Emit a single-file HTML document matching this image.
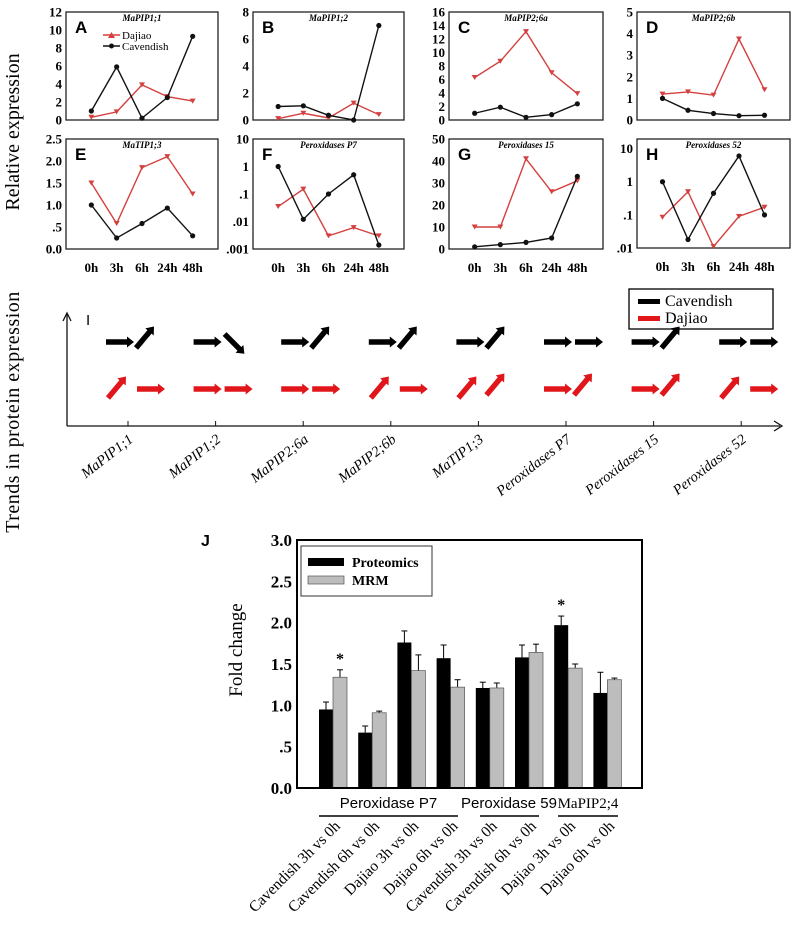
<!DOCTYPE html>
<html><head><meta charset="utf-8"><style>
html,body{margin:0;padding:0;background:#fff;}
svg{display:block;font-family:"Liberation Serif",serif;}
</style></head><body>
<svg id="fig" width="800" height="925" viewBox="0 0 800 925">
<text transform="translate(19,132) rotate(-90)" text-anchor="middle" font-size="20">Relative expression</text>
<text transform="translate(19,412) rotate(-90)" text-anchor="middle" font-size="20" letter-spacing="0.5">Trends in protein expression</text>
<g id="lines"></g>
<g id="trend"></g>
<g id="bars"></g>
</svg>
<script>
const NS="http://www.w3.org/2000/svg";
function mk(tag,attrs,parent,text){const e=document.createElementNS(NS,tag);for(const k in attrs)e.setAttribute(k,attrs[k]);if(text!==undefined)e.textContent=text;parent.appendChild(e);return e;}

// ---------- line panels data ----------
const timeLabels=["0h","3h","6h","24h","48h"];
const dajiaoA=[0.3,0.9,3.9,2.6,2.1];
const cavA=[1.0,5.9,0.2,2.5,9.3];
const dajiaoB=[0.1,0.5,0.15,1.25,0.4];
const cavB=[1.0,1.05,0.35,0.0,7.0];
const dajiaoC=[6.3,8.7,13.1,7.0,3.9];
const cavC=[1.0,1.9,0.4,0.8,2.4];
const dajiaoD=[1.2,1.3,1.15,3.75,1.4];
const cavD=[1.0,0.45,0.3,0.2,0.22];
const dajiaoE=[1.5,0.58,1.85,2.1,1.25];
const cavE=[1.0,0.25,0.58,0.93,0.3];
const dajiaoF=[0.035,0.15,0.003,0.006,0.003];
const cavF=[1.0,0.012,0.1,0.5,0.0014];
const dajiaoG=[10,10,41,26,31];
const cavG=[1,2,3,5,33];
const dajiaoH=[0.085,0.5,0.011,0.09,0.17];
const cavH=[1.0,0.018,0.45,6.0,0.1];
const ticksA=["0","2","4","6","8","10","12"], ticksB=["0","2","4","6","8"], ticksC=["0","2","4","6","8","10","12","14","16"];
const ticksD=["0","1","2","3","4","5"], ticksE=["0.0",".5","1.0","1.5","2.0","2.5"], ticksG=["0","10","20","30","40","50"];
const ticksF=[".001",".01",".1","1","10"], ticksH=[".01",".1","1","10"];

const panels=[
 {id:"a",L:"A",t:"MaPIP1;1",x:66,y:12,w:152,h:108,min:0,max:12,log:false,ticks:ticksA,d:dajiaoA,c:cavA,legend:true},
 {id:"b",L:"B",t:"MaPIP1;2",x:253,y:12,w:151,h:108,min:0,max:8,log:false,ticks:ticksB,d:dajiaoB,c:cavB},
 {id:"c",L:"C",t:"MaPIP2;6a",x:449,y:12,w:154,h:108,min:0,max:16,log:false,ticks:ticksC,d:dajiaoC,c:cavC},
 {id:"d",L:"D",t:"MaPIP2;6b",x:637,y:12,w:153,h:108,min:0,max:5,log:false,ticks:ticksD,d:dajiaoD,c:cavD},
 {id:"e",L:"E",t:"MaTIP1;3",x:66,y:139,w:152,h:110,min:0,max:2.5,log:false,ticks:ticksE,d:dajiaoE,c:cavE,xl:true},
 {id:"f",L:"F",t:"Peroxidases P7",x:253,y:139,w:151,h:110,min:-3,max:1,log:true,ticks:ticksF,d:dajiaoF,c:cavF,xl:true},
 {id:"g",L:"G",t:"Peroxidases 15",x:449,y:139,w:154,h:110,min:0,max:50,log:false,ticks:ticksG,d:dajiaoG,c:cavG,xl:true},
 {id:"h",L:"H",t:"Peroxidases 52",x:637,y:139,w:153,h:109,min:-2,max:1.29,log:true,ticks:ticksH,d:dajiaoH,c:cavH,xl:true}
];
const LG=document.getElementById("lines");
panels.forEach(p=>{
  const g=mk("g",{},LG);
  
  
  const yv=v=>{const t=p.log?Math.log10(Math.max(v,1e-6)):v;return p.y+p.h-(t-p.min)/(p.max-p.min)*p.h;};
  const xv=i=>p.x+p.w*(i+1)/6;
  mk("rect",{x:p.x,y:p.y,width:p.w,height:p.h,fill:"none",stroke:"#222","stroke-width":1.3},g);
  p.ticks.forEach((t,i)=>{
    const val=p.log?Math.log10(parseFloat(t)):parseFloat(t);
    const yy=p.y+p.h-(val-p.min)/(p.max-p.min)*p.h;
    const tl=mk("text",{x:p.x-4,y:yy+4.5,"text-anchor":"end","font-size":13,"font-weight":"bold"},g,t);
    
    
  });
  if(p.xl){timeLabels.forEach((t,i)=>{
    const xl=mk("text",{x:xv(i),y:p.y+p.h+23,"text-anchor":"middle","font-size":13,"font-weight":"bold"},g,t);
    
    
  });}
  const lt=mk("text",{x:p.x+9,y:p.y+21,"font-size":17,"font-weight":"bold","font-family":"Liberation Sans, sans-serif"},g,p.L);
  
  
  const tt=mk("text",{x:p.x+p.w/2,y:p.y+9,"text-anchor":"middle","font-size":9,"font-weight":"bold","font-style":"italic"},g,p.t);
  
  
  [[p.d,"#d4403f"],[p.c,"#111"]].forEach(([arr,col],si)=>{
    const pts=arr.map((v,i)=>xv(i)+","+yv(v)).join(" ");
    const pl=mk("polyline",{points:pts,fill:"none",stroke:col,"stroke-width":1.4},g);
    
    
    arr.forEach((v,i)=>{
      let m;
      if(si){m=mk("circle",{cx:xv(i),cy:yv(v),r:2.6,fill:col},g);}
      else{const X=xv(i),Y=yv(v);m=mk("polygon",{points:`${X-3},${Y-2.5} ${X+3},${Y-2.5} ${X},${Y+2.5}`,fill:col},g);}
      
      
    });
  });
  if(p.legend){
    mk("line",{x1:103,y1:35,x2:120,y2:35,stroke:"#d4403f","stroke-width":1.4},g);
    mk("polygon",{points:"108,38 115,38 111.5,32",fill:"#d4403f"},g);
    const l1=mk("text",{x:122,y:39,"font-size":11},g,"Dajiao");
    
    
    mk("line",{x1:103,y1:46,x2:120,y2:46,stroke:"#111","stroke-width":1.4},g);
    mk("circle",{cx:111.5,cy:46,r:2.5,fill:"#111"},g);
    const l2=mk("text",{x:122,y:50,"font-size":11},g,"Cavendish");
    
    
  }
});

// ---------- panel I ----------
const trendCats=["MaPIP1;1","MaPIP1;2","MaPIP2;6a","MaPIP2;6b","MaTIP1;3","Peroxidases P7","Peroxidases 15","Peroxidases 52"];
const cavTrend1=["r","r","r","r","r","r","r","r"];
const cavTrend2=["u","d","u","u","u","r","u","r"];
const dajTrend1=["u","r","r","u","u","r","r","u"];
const dajTrend2=["r","r","r","r","u","u","u","r"];
const TG=document.getElementById("trend");
const tickX=c=>128+c*87.6;
mk("line",{x1:67,y1:426,x2:780,y2:426,stroke:"#111","stroke-width":1.3},TG);
mk("polyline",{points:"774,421 782,426 774,431",fill:"none",stroke:"#111","stroke-width":1.3},TG);
mk("line",{x1:67,y1:426,x2:67,y2:314,stroke:"#111","stroke-width":1.3},TG);
mk("polyline",{points:"63,321 67,313 71,321",fill:"none",stroke:"#111","stroke-width":1.3},TG);
const il=mk("text",{x:86,y:325,"font-size":15,"font-family":"Liberation Sans, sans-serif"},TG,"I");


const lgb=mk("g",{},TG);


mk("rect",{x:629,y:289,width:144,height:40,fill:"#fff",stroke:"#111","stroke-width":1.4},lgb);
mk("rect",{x:638,y:299,width:22,height:5,fill:"#000"},lgb);
mk("rect",{x:638,y:316,width:22,height:5,fill:"#e0161b"},lgb);
mk("text",{x:665,y:306,"font-size":16},lgb,"Cavendish");
mk("text",{x:665,y:323,"font-size":16},lgb,"Dajiao");
function arrow(type,x,y,col,parent){
  let ang=0,len=28;
  if(type==="u"){ang=-50;len=28;} if(type==="d"){ang=45;len=28;}
  const g=mk("g",{transform:`translate(${x},${y}) rotate(${ang})`},parent);
  mk("polygon",{points:`0,-2.7 ${len-7},-2.7 ${len-7},-5.5 ${len},0 ${len-7},5.5 ${len-7},2.7 0,2.7`,fill:col},g);
  return g;
}
trendCats.forEach((c,i)=>{
  const tx=tickX(i);
  mk("line",{x1:tx,y1:426,x2:tx,y2:421,stroke:"#111"},TG);
  const lab=mk("text",{transform:`translate(${tx+6},441) rotate(-38)`,"text-anchor":"end","font-size":14.5,"font-style":"italic"},TG,c);
  
  
  const rows=[[cavTrend1[i],cavTrend2[i],342,"#000"],[dajTrend1[i],dajTrend2[i],389,"#e0161b"]];
  rows.forEach(([a,b,y,col],ri)=>{
    const x0=tx-22;
    const g1=arrow(a,a==="u"?x0+2:x0,a==="u"?y+9:y,col,TG);
    
    
    const x1=x0+31;
    const g2=arrow(b,b==="u"?x1-1:x1,b==="u"?y+6:(b==="d"?y-8:y),col,TG);
    
    
  });
});

// ---------- panel J ----------
const barCats=["Cavendish 3h vs 0h","Cavendish 6h vs 0h","Dajiao 3h vs 0h","Dajiao 6h vs 0h","Cavendish 3h vs 0h","Cavendish 6h vs 0h","Dajiao 3h vs 0h","Dajiao 6h vs 0h"];
const proteomics=[0.95,0.67,1.76,1.57,1.21,1.58,1.97,1.15];
const proteomicsErr=[0.09,0.08,0.14,0.16,0.07,0.15,0.11,0.25];
const mrm=[1.34,0.91,1.42,1.22,1.21,1.64,1.45,1.31];
const mrmErr=[0.09,0.02,0.19,0.09,0.06,0.10,0.05,0.02];
const significant=[1,0,0,0,0,0,1,0];
const barTicks=["0.0",".5","1.0","1.5","2.0","2.5","3.0"];
const BG=document.getElementById("bars");
const jx0=297,jx1=642,jy0=540,jy1=788,jmax=3;
const by=v=>jy1-v/jmax*(jy1-jy0);
const bx=i=>319+i*39.2;
const jl=mk("text",{x:201,y:546,"font-size":16,"font-weight":"bold","font-family":"Liberation Sans, sans-serif"},BG,"J");


const fc=mk("text",{transform:"translate(242,650) rotate(-90)","text-anchor":"middle","font-size":19},BG,"Fold change");


barTicks.forEach(t=>{
  const yy=by(parseFloat(t));
  const tl=mk("text",{x:292,y:yy+6,"text-anchor":"end","font-size":17,"font-weight":"bold"},BG,t);
  
  
});
proteomics.forEach((v,i)=>{
  const x=bx(i);
  const e1=v+proteomicsErr[i];
  mk("line",{x1:x+7,y1:by(v),x2:x+7,y2:by(e1),stroke:"#000","stroke-width":1},BG);
  mk("line",{x1:x+4,y1:by(e1),x2:x+10,y2:by(e1),stroke:"#000","stroke-width":1},BG);
  const r=mk("rect",{x:x,y:by(v),width:14,height:jy1-by(v),fill:"#000"},BG);
  
  
  const m=mrm[i],e2=m+mrmErr[i];
  mk("line",{x1:x+21,y1:by(m),x2:x+21,y2:by(e2),stroke:"#000","stroke-width":1},BG);
  mk("line",{x1:x+18,y1:by(e2),x2:x+24,y2:by(e2),stroke:"#000","stroke-width":1},BG);
  const r2=mk("rect",{x:x+14,y:by(m),width:14,height:jy1-by(m),fill:"#bdbdbd",stroke:"#555","stroke-width":0.7},BG);
  
  
  if(significant[i]){
    const top=Math.max(e1,e2);
    const s=mk("text",{x:x+(e2>e1?21:7),y:by(top)-6,"text-anchor":"middle","font-size":16,"font-weight":"bold"},BG,"*");
    
    
  }
  const lab=mk("text",{transform:`translate(${x+22},827) rotate(-45)`,"text-anchor":"end","font-size":15.5},BG,barCats[i]);
  
  
});
mk("rect",{x:jx0,y:jy0,width:jx1-jx0,height:jy1-jy0,fill:"none",stroke:"#000","stroke-width":2},BG);
const blg=mk("g",{},BG);


mk("rect",{x:301,y:546,width:131,height:50,fill:"#fff",stroke:"#333","stroke-width":1},blg);
mk("rect",{x:308,y:558,width:36,height:8,fill:"#000"},blg);
mk("rect",{x:308,y:576,width:36,height:8,fill:"#bdbdbd",stroke:"#555","stroke-width":0.7},blg);
mk("text",{x:352,y:567,"font-size":14,"font-weight":"bold"},blg,"Proteomics");
mk("text",{x:352,y:585,"font-size":14,"font-weight":"bold"},blg,"MRM");
const groups=[["Peroxidase P7",319,458],["Peroxidase 59",480,539],["MaPIP2;4",558,618]];
groups.forEach(([n,a,b],k)=>{
  mk("line",{x1:a,y1:816,x2:b,y2:816,stroke:"#000","stroke-width":1.5},BG);
  const t=mk("text",{x:k==0?(a+b)/2:(k==1?509:588),y:808,"text-anchor":"middle","font-size":15,"font-family":k==2?"Liberation Serif, serif":"Liberation Sans, sans-serif"},BG,n);
  
  
});
</script>
</body></html>
